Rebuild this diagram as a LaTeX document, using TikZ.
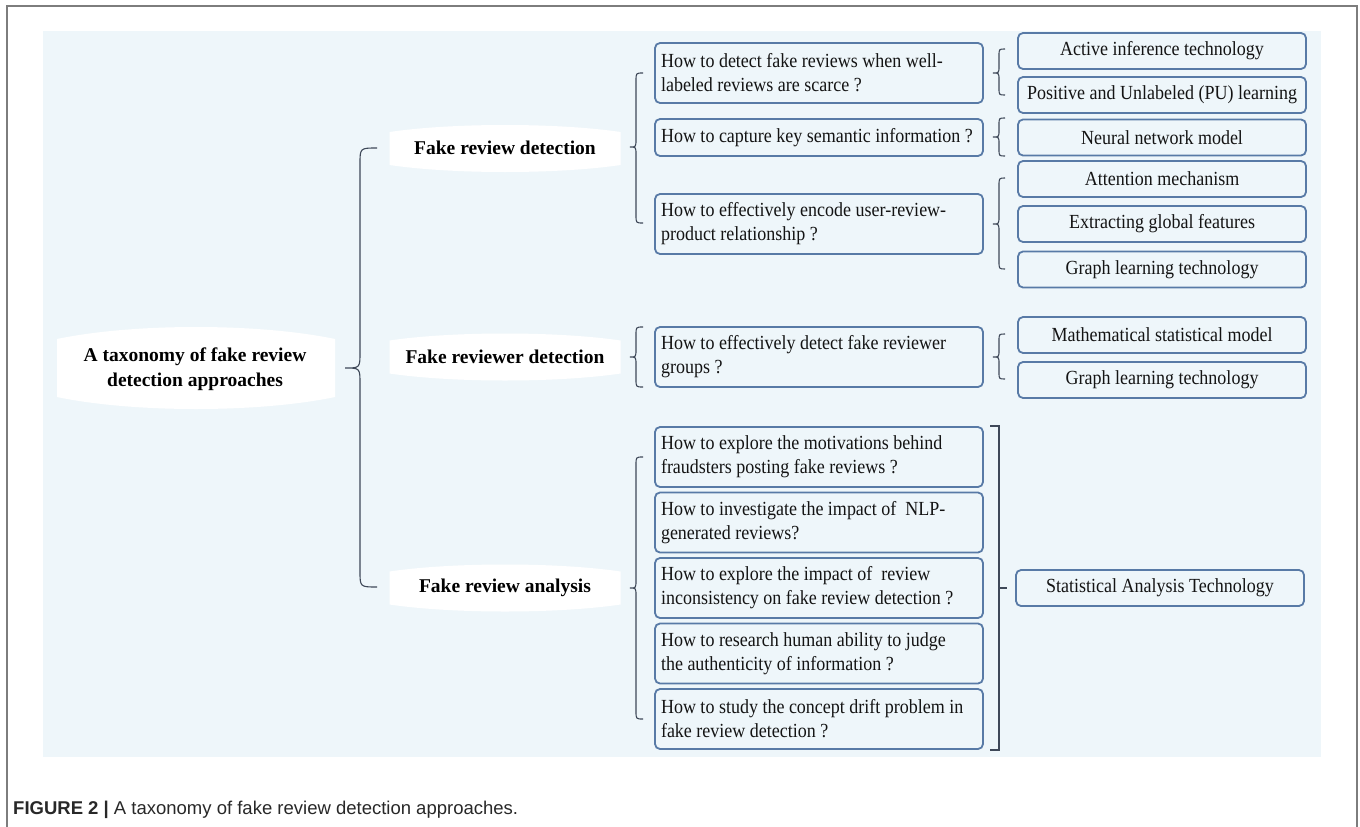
\documentclass[tikz,border=0pt]{standalone}
\usepackage{fontspec}
\setmainfont{Liberation Serif}
\newfontfamily\qfont{Liberation Serif}[FakeStretch=0.9]
\newfontfamily\afont{Liberation Serif}[FakeStretch=0.9]
\newfontfamily\capfont{Liberation Sans}
\definecolor{panel}{RGB}{238,246,250}
\definecolor{boxline}{RGB}{88,122,166}
\definecolor{bracecol}{RGB}{62,72,88}
\definecolor{framecol}{RGB}{125,125,125}
\definecolor{txt}{RGB}{20,20,20}
\definecolor{captxt}{RGB}{40,40,40}
\tikzset{
  qbox/.style={draw=boxline, line width=1.8pt, rounded corners=5pt, fill=panel,
    text width=316pt, inner xsep=6pt, inner ysep=0pt, align=flush left, minimum height=60pt,
    font=\qfont\fontsize{20}{24}\selectfont, text=txt},
  abox/.style={draw=boxline, line width=1.8pt, rounded corners=5pt, fill=panel,
    minimum width=288pt, minimum height=36pt, inner sep=0pt, align=center,
    font=\afont\fontsize{20}{24}\selectfont, text=txt},
  lbl/.style={font=\bfseries\fontsize{19.5}{25}\selectfont, align=center, inner sep=0pt, text=black},
  brc/.style={draw=bracecol, line width=1.1pt},
}
% curly brace: xv, xtip, xcurl, ytop, ymid, ybot, r
\newcommand\cbr[7]{%
  \draw[brc] (#3,#4) .. controls (#1,#4) .. (#1,{#4+#7}) -- (#1,{#5-#7})
    .. controls (#1,#5) .. (#2,#5) .. controls (#1,#5) .. (#1,{#5+#7})
    -- (#1,{#6-#7}) .. controls (#1,#6) .. (#3,#6);}
% white label backdrop: cx, cy, hw, hh, bulge
\newcommand\blob[5]{%
  \fill[white] ({#1-#3},{#2-#4+#5}) .. controls ({#1-#3*0.45},{#2-#4-#5/3}) and ({#1+#3*0.45},{#2-#4-#5/3}) .. ({#1+#3},{#2-#4+#5})
    -- ({#1+#3},{#2+#4-#5}) .. controls ({#1+#3*0.45},{#2+#4+#5/3}) and ({#1-#3*0.45},{#2+#4+#5/3}) .. ({#1-#3},{#2+#4-#5}) -- cycle;}
\begin{document}
\begin{tikzpicture}[x=1pt,y=-1pt]
\useasboundingbox (0,0) rectangle (1360,827);
\fill[white] (0,0) rectangle (1360,827);
\draw[framecol, line width=1.5pt] (7,827) -- (7,6) -- (1357,6) -- (1357,827);
\fill[panel] (43,31) rectangle (1321,757);

% white backdrops
\blob{196}{368}{139}{41}{12}
\blob{505}{148.5}{115.5}{23.5}{7}
\blob{505}{357}{115.5}{23.5}{7}
\blob{505}{588}{115.5}{23.5}{7}

% labels
\node[lbl] (root) at (195,369) {A taxonomy of fake review\\detection approaches};
\node[lbl] (frd) at (505,148) {Fake review detection};
\node[lbl] (frr) at (505,357) {Fake reviewer detection};
\node[lbl] (fra) at (505,588) {Fake review analysis};

% questions
\node[qbox] (q1) at (819,73) {How to detect fake reviews when well-\\labeled reviews are scarce ?};
\node[qbox, minimum height=37pt] (q2) at (819,137.5) {How to capture key semantic information ?};
\node[qbox] (q3) at (819,224) {How to effectively encode user-review-\\product relationship ?};
\node[qbox] (q4) at (819,357) {How to effectively detect fake reviewer\\groups ?};
\node[qbox] (q5) at (819,457) {How to explore the motivations behind\\fraudsters posting fake reviews ?};
\node[qbox] (q6) at (819,522.5) {How to investigate the impact of~ NLP-\\generated reviews?};
\node[qbox] (q7) at (819,588) {How to explore the impact of~ review\\inconsistency on fake review detection ?};
\node[qbox] (q8) at (819,653.5) {How to research human ability to judge\\the authenticity of information ?};
\node[qbox] (q9) at (819,719) {How to study the concept drift problem in\\fake review detection ?};

% answers
\node[abox] (a1) at (1162,51) {Active inference technology};
\node[abox] (a2) at (1162,95) {Positive and Unlabeled (PU) learning};
\node[abox] (a3) at (1162,137.5) {Neural network model};
\node[abox] (a4) at (1162,179) {Attention mechanism};
\node[abox] (a5) at (1162,224) {Extracting global features};
\node[abox] (a6) at (1162,269.5) {Graph learning technology};
\node[abox] (a7) at (1162,335) {Mathematical statistical model};
\node[abox] (a8) at (1162,380) {Graph learning technology};
\node[abox] (a9) at (1160,588) {Statistical Analysis Technology};

% braces
\cbr{360}{345}{377}{148}{368}{587}{16}
\cbr{636}{630}{643}{73}{147}{223}{8}
\cbr{636}{630}{643}{327}{357}{387}{8}
\cbr{636}{630}{643}{457}{588}{719}{8}
\cbr{999}{993}{1005}{49}{73}{95}{7}
\cbr{999}{993}{1005}{118}{137}{156}{7}
\cbr{999}{993}{1005}{178}{224}{269}{8}
\cbr{999}{993}{1005}{334}{357}{379}{7}
\draw[brc] (990,426) -- (999,426) -- (999,750) -- (990,750);
\draw[brc] (999,588) -- (1007,588);

% caption
\node[anchor=base west, inner sep=0pt, font=\capfont\fontsize{18.5}{20}\selectfont, text=captxt] (cap) at (13,814)
  {\textbf{FIGURE 2 |} A taxonomy of fake review detection approaches.};
\end{tikzpicture}
\end{document}
